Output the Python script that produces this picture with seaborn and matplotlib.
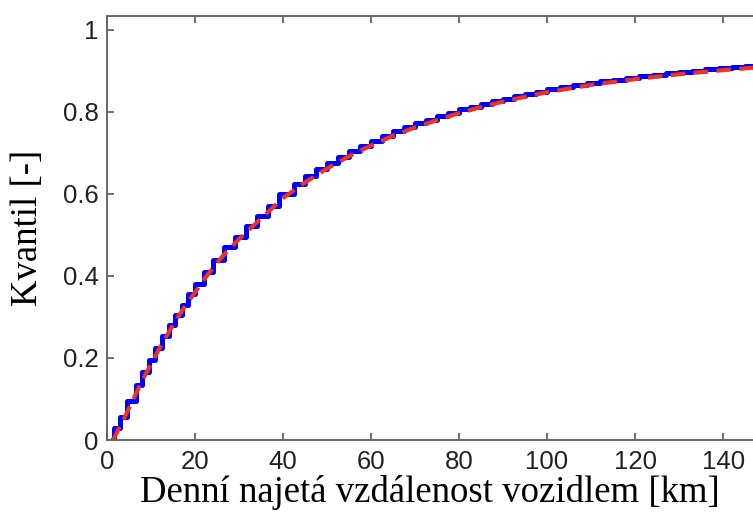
import numpy as np
import pandas as pd
import seaborn as sns
import matplotlib
matplotlib.use('Agg')
import matplotlib.pyplot as plt

emp_km = [1.2, 1.5, 3.0, 4.5, 6.5, 8.0, 9.5, 11.0, 12.5, 14.0, 15.5, 17.0, 18.5, 20.0,
          22.0, 24.0, 26.5, 29.0, 31.5, 34.0, 36.5, 39.0, 42.5, 45.0, 47.5, 50.0,
          52.5, 55.0, 57.5, 60.0, 62.5, 65.0, 67.5, 70.0, 72.5, 75.0, 77.5, 80.0,
          82.5, 85.0, 87.5, 90.0, 92.5, 95.0, 97.5, 100.0, 103.0, 106.0, 109.0,
          112.0, 115.0, 118.0, 121.0, 124.0, 127.0, 130.0, 133.0, 136.0, 139.0,
          142.0, 145.0, 147.0]
emp_q = [0.0, 0.03, 0.055, 0.095, 0.134, 0.165, 0.195, 0.225, 0.253, 0.28, 0.306, 0.33, 0.355, 0.38,
         0.41, 0.44, 0.47, 0.496, 0.521, 0.546, 0.571, 0.60, 0.624, 0.643, 0.66, 0.676,
         0.69, 0.704, 0.717, 0.73, 0.742, 0.753, 0.763, 0.772, 0.781, 0.79, 0.798, 0.806,
         0.813, 0.82, 0.826, 0.832, 0.838, 0.844, 0.849, 0.855, 0.86, 0.865, 0.87,
         0.875, 0.879, 0.883, 0.887, 0.891, 0.895, 0.898, 0.901, 0.904, 0.907,
         0.91, 0.913, 0.913]

# prolozena distribucni funkce (cervena carkovana)
fit_km = [1.4, 4, 6, 8, 10, 12, 14, 16, 18, 20, 23, 26, 30, 35, 40, 45, 50, 55, 60,
          65, 70, 75, 80, 85, 90, 95, 100, 110, 120, 130, 140, 147]
fit_q = [0.0, 0.055, 0.1, 0.145, 0.185, 0.225, 0.262, 0.298, 0.33, 0.36, 0.405, 0.445,
         0.49, 0.54, 0.59, 0.628, 0.662, 0.692, 0.718, 0.742, 0.762, 0.78, 0.797, 0.812,
         0.825, 0.837, 0.848, 0.866, 0.88, 0.892, 0.902, 0.908]

emp = pd.DataFrame({'km': emp_km, 'q': emp_q})
fit = pd.DataFrame({'km': fit_km, 'q': fit_q})

sns.set_theme(style='white')
plt.rcParams['font.family'] = ['Liberation Sans', 'DejaVu Sans']

fig = plt.figure(figsize=(7.53, 5.18), dpi=100)
ax = fig.add_axes([107/753, (518-440)/518, 1 - 107/753, (440-16)/518])

sns.lineplot(data=emp, x='km', y='q', ax=ax, color='#0000ff', linewidth=3.6,
             drawstyle='steps-post', sort=False)
sns.lineplot(data=fit, x='km', y='q', ax=ax, color='#ee3322', linewidth=3.0,
             linestyle=(0, (3.5, 2.0)), sort=False)

ax.set_xlim(0, 146.8)
ax.set_ylim(0, 1.034)
ax.set_xticks([0, 20, 40, 60, 80, 100, 120, 140])
ax.set_xticklabels(['0', '20', '40', '60', '80', '100', '120', '140'])
ax.set_yticks([0, 0.2, 0.4, 0.6, 0.8, 1])
ax.set_yticklabels(['0', '0.2', '0.4', '0.6', '0.8', '1'])

ax.tick_params(axis='both', direction='in', length=5, width=1.2, color='#555555',
               labelsize=18.5, labelcolor='#222222', top=True, bottom=True, left=True, right=False)
ax.tick_params(axis='x', pad=7)
ax.tick_params(axis='y', pad=6)
for s in ['top', 'bottom', 'left']:
    ax.spines[s].set_color('#666666')
    ax.spines[s].set_linewidth(1.4)
ax.spines['right'].set_visible(False)

ax.set_xlabel('Denní najetá vzdálenost vozidlem [km]', fontsize=26.5,
              family=['Liberation Serif', 'DejaVu Serif'], color='black', labelpad=1)
ax.set_ylabel('Kvantil [-]', fontsize=26.5,
              family=['Liberation Serif', 'DejaVu Serif'], color='black', labelpad=13)

fig.savefig('out.png', dpi=100)
